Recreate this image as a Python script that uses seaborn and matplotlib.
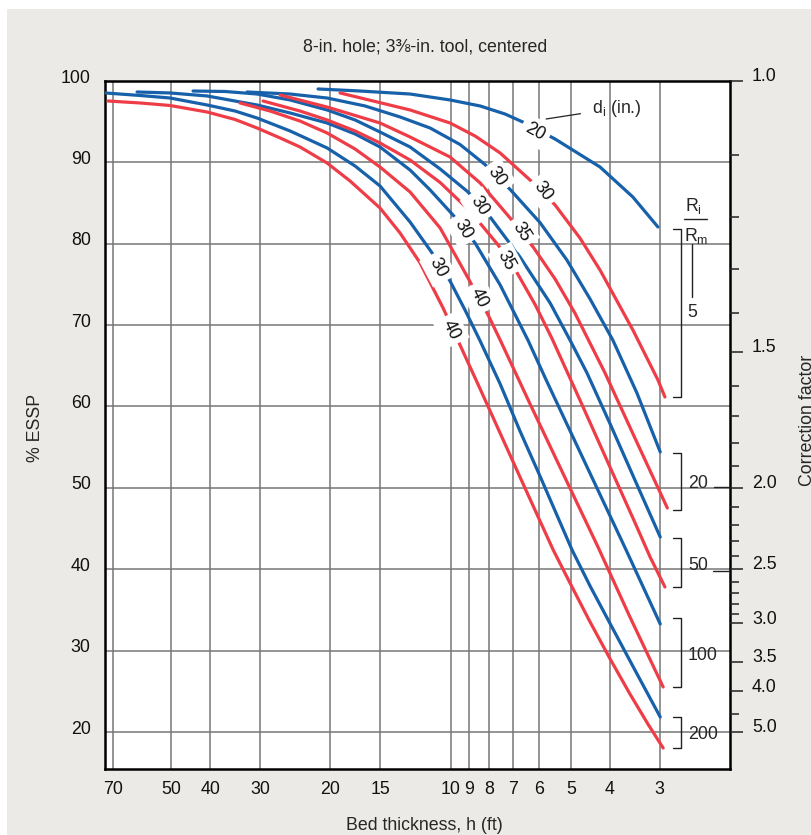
import numpy as np
import pandas as pd
import matplotlib
matplotlib.use("Agg")
import matplotlib.pyplot as plt
import matplotlib.transforms as mtrans
from matplotlib.patches import Rectangle
from matplotlib.ticker import NullLocator
import seaborn as sns

sns.set_theme(style="white")
plt.rcParams["font.family"] = ["Liberation Sans", "DejaVu Sans"]
plt.rcParams["mathtext.fontset"] = "custom"
plt.rcParams["mathtext.rm"] = "Liberation Sans"

BLUE = "#1760aa"
RED = "#ef3d48"
FS = 12.8

# ---- data: bed thickness h (ft) and % ESSP for each curve ----
A_h = [21.48, 16.86, 12.64, 10.04, 8.44, 7.31, 6.52, 5.48, 4.23, 3.50, 3.03]
A_E = [99.02, 98.77, 98.40, 97.67, 96.93, 95.94, 94.84, 92.87, 89.43, 85.74, 82.06]

B_h = [18.92, 12.64, 10.04, 8.69, 7.52, 6.33, 5.48, 4.75, 4.23, 3.50, 3.03, 2.91]
B_E = [98.53, 96.44, 94.84, 93.24, 91.15, 87.83, 84.76, 80.71, 76.77, 69.40, 63.26, 61.17]

C_h = [32.34, 25.24, 20.39, 16.38, 13.39, 11.26, 9.48, 8.21, 7.10, 5.98, 5.12, 4.48, 3.93,
       3.42, 2.99]
C_E = [98.65, 98.40, 97.91, 96.93, 95.58, 94.22, 92.20, 89.74, 86.67, 82.61, 78.00, 73.21,
       68.17, 61.66, 54.41]

D_h = [26.73, 20.39, 15.03, 12.64, 10.04, 8.44, 7.10, 6.22, 5.48, 4.89, 4.11, 3.46, 2.87]
D_E = [98.28, 96.80, 94.84, 93.12, 90.66, 87.47, 83.16, 79.60, 75.67, 71.49, 64.12, 56.13,
       47.53]

E_h = [44.15, 36.71, 30.52, 25.24, 20.39, 17.35, 15.03, 12.64, 10.63, 9.05, 7.97, 6.71, 5.64,
       5.03, 4.56, 3.99, 3.46, 2.99]
E_E = [98.77, 98.71, 98.40, 97.67, 96.44, 95.21, 93.73, 91.89, 89.19, 86.36, 83.29, 78.37,
       72.72, 68.17, 64.12, 57.85, 50.97, 43.96]

F_h = [29.48, 23.83, 20.39, 17.35, 15.03, 12.64, 10.63, 8.95, 7.61, 6.82, 6.15, 5.58, 4.75,
       3.99, 3.46, 3.17, 2.91]
F_E = [97.54, 96.31, 95.21, 93.86, 92.38, 90.29, 87.53, 84.02, 79.85, 76.41, 72.53, 68.36,
       60.80, 52.51, 45.75, 41.51, 37.82]

G_h = [60.95, 50.39, 40.71, 30.52, 25.24, 20.39, 17.35, 15.03, 12.64, 11.26, 9.87, 8.69,
       7.52, 6.41, 5.77, 4.46, 3.64, 2.99]
G_E = [98.65, 98.53, 98.16, 97.05, 96.07, 94.84, 93.49, 91.89, 89.06, 86.61, 83.53, 80.09,
       74.93, 68.17, 63.26, 51.58, 42.37, 33.27]

H_h = [33.68, 28.32, 23.83, 20.39, 17.35, 15.03, 12.64, 10.63, 9.05, 8.06, 7.52, 6.33, 5.33,
       4.28, 3.56, 2.94]
H_E = [97.30, 96.31, 95.08, 93.61, 91.64, 89.43, 86.36, 81.94, 75.79, 71.24, 68.17, 60.31,
       52.57, 42.74, 34.13, 25.53]

I_h = [73.28, 59.91, 50.39, 40.71, 34.65, 30.52, 25.24, 20.39, 17.35, 15.03, 12.64, 11.13,
       10.04, 9.21, 8.44, 7.52, 6.71, 5.98, 4.97, 4.48, 3.95, 3.46, 2.99]
I_E = [98.53, 98.22, 97.91, 97.05, 96.31, 95.45, 93.86, 91.77, 89.55, 87.10, 82.67, 78.86,
       75.42, 71.86, 68.05, 62.76, 56.99, 51.46, 42.37, 37.94, 32.90, 27.62, 21.84]

J_h = [72.03, 59.91, 50.39, 40.71, 34.65, 30.52, 26.73, 23.83, 20.39, 17.86, 15.03, 13.39,
       11.93, 10.45, 8.44, 6.71, 5.54, 4.97, 4.48, 3.99, 3.56, 3.21, 2.94]
J_E = [97.54, 97.30, 96.99, 96.19, 95.27, 94.22, 93.00, 91.89, 89.92, 87.71, 84.39, 81.32,
       77.64, 72.10, 62.15, 51.34, 42.37, 37.82, 33.52, 28.97, 24.67, 20.98, 18.03]

curve_names = ["A", "B", "C", "D", "E", "F", "G", "H", "I", "J"]
curve_h = [A_h, B_h, C_h, D_h, E_h, F_h, G_h, H_h, I_h, J_h]
curve_E = [A_E, B_E, C_E, D_E, E_E, F_E, G_E, H_E, I_E, J_E]
curve_kind = ["blue", "red", "blue", "red", "blue", "red", "blue", "red", "blue", "red"]
curve_di = ["20", "30", "30", "35", "30", "35", "30", "40", "30", "40"]

# inline d_i label anchors (h, E) and rotation
label_h = [6.15, 5.87, 7.66, 6.67, 8.49, 7.27, 9.31, 8.49, 10.76, 9.98]
label_E = [93.73, 86.48, 88.20, 81.44, 84.64, 77.88, 81.81, 73.33, 77.02, 69.40]
label_rot = [-29, -53, -55, -58, -57, -62, -60, -64, -62, -64]

x_ticks = [70, 50, 40, 30, 20, 15, 10, 9, 8, 7, 6, 5, 4, 3]
y_ticks = [20, 30, 40, 50, 60, 70, 80, 90, 100]
cf_major = [1.0, 1.5, 2.0, 2.5, 3.0, 3.5, 4.0, 5.0]
cf_minor = [1.1, 1.2, 1.3, 1.4, 1.6, 1.7, 1.8, 1.9, 2.1, 2.2, 2.3, 2.4,
            2.6, 2.7, 2.8, 2.9, 4.5]

ratio_labels = ["5", "20", "50", "100", "200"]
ratio_top = [81.8, 54.3, 43.8, 34.0, 21.9]
ratio_bot = [61.2, 47.3, 37.8, 25.5, 18.0]

rows = []
for n, hs, es, k in zip(curve_names, curve_h, curve_E, curve_kind):
    for hv, ev in zip(hs, es):
        rows.append({"curve": n, "h": hv, "E": ev, "kind": k})
df = pd.DataFrame(rows)

W, H = 812, 835
fig = plt.figure(figsize=(W / 100, H / 100), dpi=100, facecolor="white")
fig.patches.append(Rectangle((7 / W, 0), 1, 1 - 9 / H, transform=fig.transFigure,
                             facecolor="#ECEAE7", edgecolor="none", zorder=-10))
ax = fig.add_axes([104.6 / W, 1 - 769 / H, (730 - 104.6) / W, (769 - 81) / H])
ax.set_facecolor("white")
ax.set_xscale("log")
ax.set_xlim(73.5, 2.0)
ax.set_ylim(15.45, 100)

for v in x_ticks:
    ax.axvline(v, color="#767676", lw=1.1, zorder=1)
for v in y_ticks[:-1]:
    ax.axhline(v, color="#767676", lw=1.1, zorder=1)

sns.lineplot(data=df, x="h", y="E", units="curve", hue="kind",
             palette={"blue": BLUE, "red": RED}, estimator=None, sort=False,
             lw=2.3, legend=False, ax=ax, zorder=3)
for ln in ax.lines:
    ln.set_solid_joinstyle("round")
ax.set(xlabel="", ylabel="")

for lab, hx, ey, rot in zip(curve_di, label_h, label_E, label_rot):
    ax.text(hx, ey, lab, rotation=rot, rotation_mode="anchor", ha="center", va="center",
            fontsize=FS, zorder=5, color="#111111",
            bbox=dict(boxstyle="square,pad=0.28", fc="white", ec="none"))

ax.grid(False)
ax.xaxis.set_minor_locator(NullLocator())
ax.set_xticks(x_ticks, [str(v) for v in x_ticks])
ax.set_yticks(y_ticks, [str(v) for v in y_ticks])
ax.tick_params(axis="both", length=0, labelsize=FS, colors="#111111")
ax.tick_params(axis="x", pad=9)
ax.tick_params(axis="y", pad=10)
for sp in ax.spines.values():
    sp.set_linewidth(1.8)
    sp.set_color("black")

up_l = mtrans.ScaledTranslation(0, 3.5 / 72, fig.dpi_scale_trans)
up_r = mtrans.ScaledTranslation(0, 4.5 / 72, fig.dpi_scale_trans)
for t in ax.get_yticklabels():
    t.set_transform(t.get_transform() + up_l)

ax2 = ax.twinx()
ax2.set_ylim(ax.get_ylim())
ax2.set_yticks([100 / c for c in cf_major], [f"{c:.1f}" for c in cf_major])
ax2.set_yticks([100 / c for c in cf_minor], minor=True)
ax2.tick_params(axis="y", which="major", length=9.4, width=1.1, pad=6.5, labelsize=FS,
                colors="#111111")
ax2.tick_params(axis="y", which="minor", length=6.5, width=1.1)
ax2.tick_params(axis="y", which="both", color="#222222")
for t in ax2.get_yticklabels():
    t.set_transform(t.get_transform() + up_r)
ax2.grid(False)
for sp in ax2.spines.values():
    sp.set_visible(False)

# R_i / R_m brackets
bt = mtrans.blended_transform_factory(ax.transAxes, ax.transData)
for lab, yt, yb in zip(ratio_labels, ratio_top, ratio_bot):
    ax.plot([0.909, 0.922, 0.922, 0.909], [yt, yt, yb, yb], color="#222222",
            lw=1.0, transform=bt, zorder=4, clip_on=False)
    if lab == "5":
        ax.text(0.939, 71.6, lab, transform=bt, ha="center", va="center", fontsize=FS)
    else:
        ax.text(0.933, (yt + yb) / 2 - 0.3, lab, transform=bt, ha="left", va="center",
                fontsize=FS)
ax.plot([0.9745, 1.0], [50.1, 50.1], color="#222222", lw=1.0, transform=bt, zorder=4)
ax.plot([0.9728, 1.0], [39.8, 39.8], color="#222222", lw=1.0, transform=bt, zorder=4)

ax.text(0.941, 84.6, r"R$_\mathregular{i}$", transform=bt, ha="center", va="center", fontsize=FS)
ax.plot([0.9265, 0.9633], [83.0, 83.0], color="#222222", lw=1.0, transform=bt)
ax.text(0.946, 81.0, r"R$_\mathregular{m}$", transform=bt, ha="center", va="center", fontsize=FS)
ax.plot([0.9393, 0.9393], [80.0, 73.5], color="#222222", lw=1.0, transform=bt)

ax.annotate(r"d$_\mathregular{i}$ (in.)", xy=(5.77, 95.33), xytext=(4.43, 96.68),
            ha="left", va="center", fontsize=FS,
            arrowprops=dict(arrowstyle="-", color="#222222", lw=0.9, shrinkA=6, shrinkB=0))

fig.text(425 / W, 1 - 47 / H, "8-in. hole; 3⅜-in. tool, centered", ha="center",
         va="center", fontsize=FS)
fig.text(424 / W, 1 - 826 / H, "Bed thickness, h (ft)", ha="center", va="center", fontsize=FS)
fig.text(35 / W, 1 - 428 / H, "% ESSP", ha="center", va="center", rotation=90, fontsize=FS)
fig.text(808 / W, 1 - 420 / H, "Correction factor", ha="center", va="center",
         rotation=90, fontsize=FS)

fig.savefig("out.png", dpi=100, facecolor=fig.get_facecolor())
